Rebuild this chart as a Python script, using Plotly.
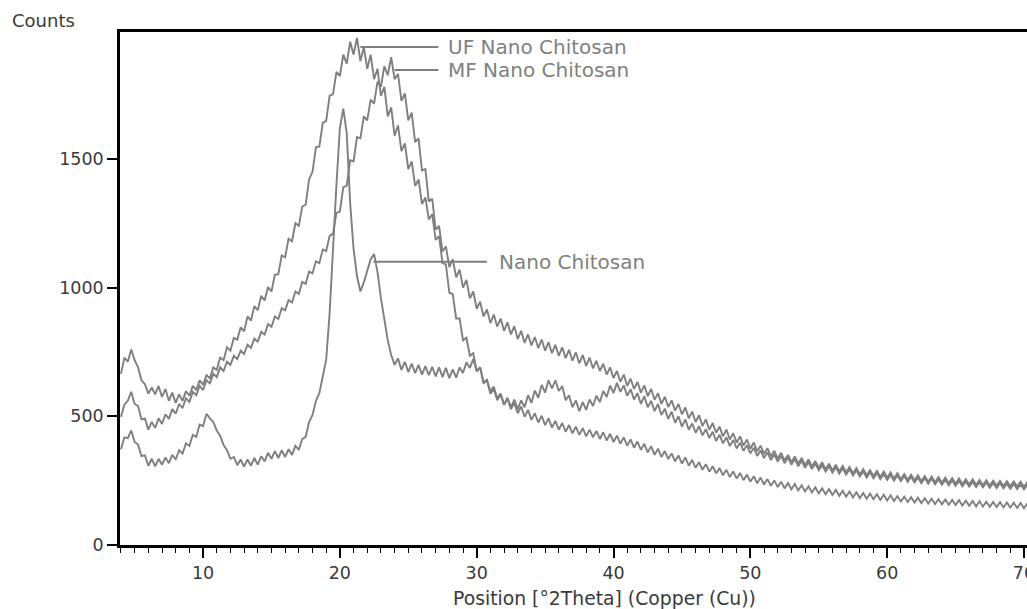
import plotly.graph_objects as go

# Measurement grid (degrees 2-theta)
two_theta_start = 4.0
two_theta_step = 0.25

# Counts, one row per degree (x.00, x.25, x.50, x.75)
uf_nano_chitosan = [
    665, 728, 712, 760,
    718, 690, 640, 625,
    588, 612, 585, 618,
    575, 606, 560, 592,
    552, 585, 560, 598,
    580, 618, 602, 640,
    622, 660, 648, 690,
    680, 728, 718, 768,
    755, 805, 798, 846,
    830, 888, 872, 928,
    912, 968, 950, 1002,
    985, 1050, 1052, 1125,
    1118, 1190, 1180, 1250,
    1240, 1315, 1322, 1420,
    1450, 1545, 1548, 1640,
    1648, 1745, 1752, 1838,
    1822, 1905, 1870, 1955,
    1905, 1970, 1880, 1935,
    1850, 1905, 1810, 1850,
    1745, 1780, 1665, 1700,
    1590, 1630, 1530, 1560,
    1460, 1490, 1395, 1420,
    1325, 1350, 1265, 1285,
    1185, 1200, 1095, 1090,
    980, 975, 880, 880,
    795, 805, 735, 745,
    675, 690, 628, 640,
    588, 605, 562, 585,
    545, 572, 535, 565,
    528, 562, 535, 582,
    552, 600, 572, 622,
    592, 640, 608, 640,
    598, 618, 562, 582,
    535, 562, 520, 555,
    525, 565, 540, 580,
    555, 598, 575, 620,
    590, 630, 595, 620,
    580, 605, 565, 590,
    548, 578, 535, 560,
    520, 548, 505, 530,
    490, 518, 475, 500,
    460, 488, 448, 472,
    436, 462, 426, 450,
    416, 440, 404, 428,
    395, 418, 384, 408,
    375, 398, 366, 388,
    356, 378, 346, 368,
    338, 360, 330, 352,
    324, 346, 318, 340,
    312, 334, 306, 328,
    300, 322, 295, 316,
    290, 310, 285, 306,
    281, 302, 277, 298,
    273, 294, 270, 290,
    266, 286, 262, 283,
    259, 280, 256, 276,
    253, 273, 250, 270,
    248, 268, 245, 265,
    243, 262, 240, 260,
    238, 258, 236, 255,
    234, 253, 232, 251,
    230, 249, 228, 247,
    227, 246, 225, 244,
    224, 243, 222, 241,
    221, 240, 220, 238,
    218, 237, 217, 235,
    216, 234,
]

mf_nano_chitosan = [
    498, 545, 560, 595,
    548, 540, 488, 492,
    448, 478, 455, 492,
    470, 508, 490, 528,
    510, 548, 532, 570,
    556, 595, 582, 618,
    602, 640, 628, 665,
    652, 690, 676, 712,
    700, 735, 722, 755,
    742, 778, 766, 802,
    790, 828, 818, 858,
    848, 888, 878, 920,
    912, 952, 942, 985,
    975, 1022, 1015, 1062,
    1055, 1102, 1095, 1148,
    1142, 1200, 1210, 1290,
    1295, 1390, 1395, 1495,
    1490, 1585, 1580, 1665,
    1650, 1730, 1715, 1800,
    1780, 1860, 1825, 1895,
    1810, 1830, 1725, 1755,
    1650, 1680, 1565, 1580,
    1455, 1460, 1335, 1345,
    1225, 1240, 1140, 1160,
    1080, 1110, 1040, 1070,
    1000, 1030, 958, 985,
    918, 945, 888, 915,
    862, 895, 848, 880,
    832, 865, 818, 850,
    800, 832, 785, 818,
    775, 808, 765, 798,
    755, 788, 745, 778,
    735, 768, 726, 758,
    716, 748, 706, 738,
    696, 728, 686, 716,
    676, 704, 662, 690,
    648, 676, 634, 662,
    618, 646, 606, 634,
    592, 620, 578, 606,
    564, 590, 548, 576,
    536, 562, 522, 548,
    508, 534, 492, 518,
    478, 504, 462, 488,
    448, 474, 436, 460,
    422, 448, 410, 434,
    398, 422, 386, 410,
    374, 398, 364, 386,
    354, 376, 344, 366,
    336, 358, 329, 350,
    322, 344, 316, 338,
    310, 332, 305, 326,
    300, 321, 295, 316,
    290, 312, 286, 307,
    282, 303, 278, 299,
    274, 295, 271, 291,
    268, 288, 264, 285,
    261, 282, 258, 279,
    256, 276, 253, 273,
    251, 271, 248, 268,
    246, 266, 244, 264,
    242, 262, 240, 260,
    238, 258, 237, 256,
    235, 255, 234, 253,
    232, 252, 231, 250,
    230, 249, 229, 248,
    228, 247, 227, 246,
    226, 245,
]

nano_chitosan = [
    372, 418, 415, 445,
    400, 390, 345, 348,
    308, 335, 305, 335,
    312, 340, 318, 350,
    332, 368, 355, 395,
    385, 428, 420, 468,
    462, 510, 492, 478,
    445, 425, 388, 368,
    335, 342, 310, 332,
    305, 332, 308, 338,
    312, 345, 325, 358,
    335, 365, 338, 368,
    342, 372, 350, 385,
    370, 412, 420, 478,
    505, 560, 590, 650,
    720, 900, 1160, 1400,
    1620, 1695, 1600, 1330,
    1150, 1045, 985, 1020,
    1065, 1110, 1130, 1060,
    960, 870, 795, 738,
    700, 725, 680, 712,
    672, 705, 668, 700,
    662, 695, 660, 692,
    655, 690, 652, 688,
    648, 682, 650, 690,
    668, 710, 688, 722,
    675, 690, 632, 642,
    598, 615, 570, 588,
    545, 568, 528, 552,
    512, 538, 498, 525,
    486, 512, 476, 502,
    466, 492, 456, 482,
    448, 474, 440, 466,
    434, 460, 428, 454,
    422, 448, 418, 443,
    412, 438, 406, 432,
    400, 425, 394, 418,
    386, 410, 378, 402,
    370, 393, 360, 384,
    350, 374, 342, 365,
    334, 356, 325, 348,
    316, 340, 308, 331,
    300, 322, 292, 314,
    285, 306, 278, 299,
    271, 292, 264, 286,
    258, 280, 252, 273,
    246, 267, 240, 262,
    235, 256, 230, 251,
    225, 246, 220, 241,
    216, 237, 212, 232,
    208, 228, 204, 224,
    200, 220, 197, 217,
    194, 214, 191, 211,
    188, 208, 185, 205,
    182, 202, 180, 200,
    178, 197, 175, 195,
    173, 193, 171, 190,
    169, 188, 167, 186,
    165, 184, 163, 182,
    161, 180, 159, 178,
    158, 177, 156, 175,
    155, 174, 153, 172,
    152, 171, 150, 170,
    149, 168, 148, 167,
    147, 166, 146, 165,
    145, 164, 144, 163,
    143, 162,
]

series_names = ["UF Nano Chitosan", "MF Nano Chitosan", "Nano Chitosan"]
x_tick_values = [10, 20, 30, 40, 50, 60, 70]
y_tick_values = [0, 500, 1000, 1500]

LINE = "#7f7f7f"
TXT = "#3a3a3a"
FONT = "DejaVu Sans, Verdana, sans-serif"

fig = go.Figure()
for name, ys in zip(series_names, [uf_nano_chitosan, mf_nano_chitosan, nano_chitosan]):
    xs = [two_theta_start + two_theta_step * i for i in range(len(ys))]
    fig.add_trace(go.Scatter(x=xs, y=ys, mode="lines", name=name,
                             line=dict(color=LINE, width=1.9), showlegend=False))

# label leaders and texts (data coordinates)
labels = [
    ("UF Nano Chitosan", 21.5, 27.2, 1935, 27.75),
    ("MF Nano Chitosan", 24.0, 27.2, 1845, 27.75),
    ("Nano Chitosan", 22.45, 30.75, 1100, 31.5),
]
for text, x0, x1, yv, xt in labels:
    fig.add_shape(type="line", x0=x0, x1=x1, y0=yv, y1=yv, xref="x", yref="y",
                  line=dict(color=LINE, width=2))
    fig.add_annotation(x=xt, y=yv, xref="x", yref="y", text=text, showarrow=False,
                       xanchor="left", yanchor="middle",
                       font=dict(family=FONT, size=20, color="#808080"))

fig.add_annotation(text="Counts", showarrow=False,
                   xref="paper", yref="paper", x=-110 / 907, y=1 + 12 / 513,
                   xanchor="left", yanchor="middle",
                   font=dict(family=FONT, size=18, color=TXT))
fig.add_annotation(text="Position [°2Theta] (Copper (Cu))", showarrow=False,
                   xref="paper", yref="paper", x=(604 - 120) / 907, y=-53 / 513,
                   xanchor="center", yanchor="middle",
                   font=dict(family=FONT, size=18.8, color=TXT))

fig.update_layout(
    width=1027, height=609, autosize=False,
    margin=dict(l=120, r=0, t=32, b=64, pad=0),
    paper_bgcolor="white", plot_bgcolor="white",
    font=dict(family=FONT, size=17.5, color=TXT),
    xaxis=dict(range=[3.93, 70.22], tickvals=x_tick_values, ticks="outside",
               ticklen=10, tickwidth=2, tickcolor="black",
               showline=True, linecolor="black", linewidth=2.5, mirror=True,
               showgrid=False, zeroline=False, automargin=False,
               minor=dict(dtick=1, tick0=0, ticks="outside", ticklen=5,
                          tickwidth=1.3, tickcolor="black"),
               ticklabelstandoff=0, ticklabeloverflow="allow"),
    yaxis=dict(range=[0, 1993], tickvals=y_tick_values, ticks="outside",
               ticklen=10, tickwidth=1.5, tickcolor="black",
               showline=True, linecolor="black", linewidth=2.5, automargin=False,
               showgrid=False, zeroline=False, ticklabelstandoff=0),
)

fig.write_html("out.html", config={"displayModeBar": False},
               post_script="document.body.style.margin='0';document.body.style.overflow='hidden';")
